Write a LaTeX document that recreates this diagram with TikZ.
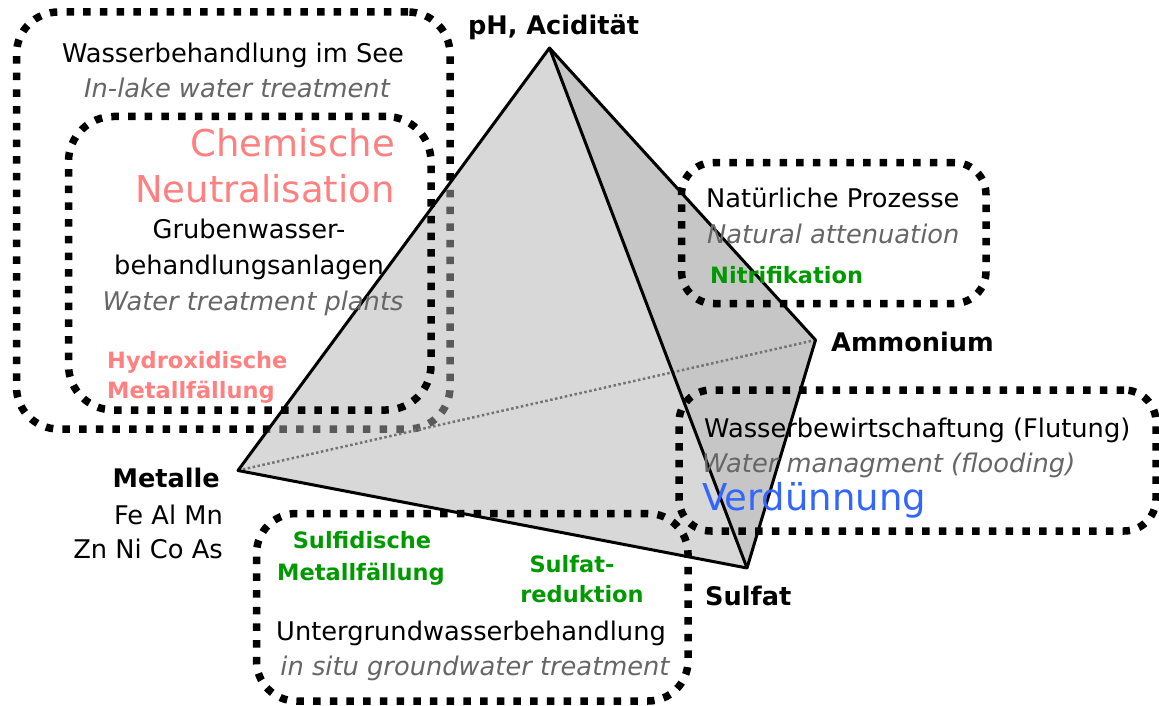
\documentclass[tikz,border=0pt]{standalone}
\usepackage{fontspec}
\setmainfont{DejaVu Sans}
\definecolor{pinkc}{RGB}{255,128,128}
\definecolor{greenc}{RGB}{0,153,0}
\definecolor{bluec}{RGB}{51,102,255}
\definecolor{grayt}{RGB}{102,102,102}
\definecolor{faceR}{RGB}{198,198,198}
\definecolor{faceF}{RGB}{179,179,179}
\definecolor{hidden}{RGB}{115,115,115}
\begin{document}
\begin{tikzpicture}[x=1pt,y=-1pt,
  dotbox/.style={draw=black, line width=7.5pt, dash pattern=on 7.5pt off 9.2pt, fill=none, inner sep=0pt, outer sep=0pt},
  edge/.style={draw=black, line width=3pt, line join=round},
  hiddenedge/.style={draw=hidden, line width=2.5pt, dash pattern=on 2.5pt off 2.5pt},
  txt/.style={font=\fontsize{25.7}{30}\selectfont, inner sep=0pt, anchor=base},
  ittxt/.style={font=\fontsize{25.7}{30}\selectfont\itshape, text=grayt, inner sep=0pt, anchor=base},
  lbl/.style={font=\fontsize{25.6}{30}\selectfont\bfseries, inner sep=0pt, anchor=base},
  smalllbl/.style={font=\fontsize{22.5}{27}\selectfont\bfseries, inner sep=0pt, anchor=base},
  bigtxt/.style={font=\fontsize{37}{42}\selectfont, inner sep=0pt, anchor=base}]
\useasboundingbox (0,0) rectangle (1159,706);
\fill[white] (0,0) rectangle (1159,706);

% outer box (beneath the tetrahedron)
\node[dotbox, rounded corners=42pt, minimum width=433.5pt, minimum height=417pt] (outerbox) at (233.25,220.5) {};

% tetrahedron
\coordinate (P) at (549.5,48);
\coordinate (M) at (238,470.5);
\coordinate (A) at (815.5,340);
\coordinate (S) at (747,568);
\fill[faceF, fill opacity=0.5] (P) -- (M) -- (S) -- cycle;
\fill[faceR] (P) -- (S) -- (A) -- cycle;
\draw[hiddenedge] (M) -- (A);
\draw[edge] (P) -- (M) -- (S) -- (A) -- cycle;
\draw[edge] (P) -- (S);

% other boxes
\node[dotbox, rounded corners=45pt, minimum width=362.5pt, minimum height=293.5pt] (innerbox) at (249.75,263.25) {};
\node[dotbox, rounded corners=32pt, minimum width=304.5pt, minimum height=141pt] (natbox) at (833.75,233) {};
\node[dotbox, rounded corners=32pt, minimum width=477pt, minimum height=141pt] (wasbox) at (917.5,460.5) {};
\node[dotbox, rounded corners=40pt, minimum width=431.5pt, minimum height=187.5pt] (lowbox) at (472.25,607.25) {};

% vertex labels
\node[lbl] (ph) at (553.5,35) {pH, Acidität};
\node[lbl, anchor=base west] (amm) at (831,351) {Ammonium};
\node[lbl, anchor=base west] (sulf) at (705,605) {Sulfat};
\node[lbl, anchor=base east] (met) at (220,487) {Metalle};
\node[txt, anchor=base east] (fe) at (223,524) {Fe Al Mn};
\node[txt, anchor=base east] (zn) at (223,558) {Zn Ni Co As};

% outer / inner box texts
\node[txt] (w1) at (233,63) {Wasserbehandlung im See};
\node[ittxt] (w2) at (237,98) {In-lake water treatment};
\node[bigtxt, text=pinkc, anchor=base east] (chem) at (395,157) {Chemische};
\node[bigtxt, text=pinkc, anchor=base east] (neut) at (395,202) {Neutralisation};
\node[txt] (g1) at (249,238) {Grubenwasser-};
\node[txt] (g2) at (249,274) {behandlungsanlagen};
\node[ittxt] (g3) at (253,310) {Water treatment plants};
\node[smalllbl, text=pinkc, anchor=base west] (h1) at (107,368) {Hydroxidische};
\node[smalllbl, text=pinkc, anchor=base west] (h2) at (107,398) {Metallfällung};

% natural box texts
\node[txt, anchor=base west] (n1) at (706,207) {Natürliche Prozesse};
\node[ittxt, anchor=base west] (n2) at (707,243) {Natural attenuation};
\node[smalllbl, text=greenc, anchor=base west] (n3) at (710,283) {Nitrifikation};

% water management box texts
\node[txt, anchor=base west] (wb1) at (704,437) {Wasserbewirtschaftung (Flutung)};
\node[ittxt, anchor=base west] (wb2) at (702,472) {Water managment (flooding)};
\node[bigtxt, text=bluec, anchor=base west] (verd) at (702,510) {Verdünnung};

% lower box texts
\node[smalllbl, text=greenc] (sd1) at (362,548) {Sulfidische};
\node[smalllbl, text=greenc] (sd2) at (361,580) {Metallfällung};
\node[smalllbl, text=greenc] (sr1) at (572,572) {Sulfat-};
\node[smalllbl, text=greenc] (sr2) at (582,602) {reduktion};
\node[txt] (u1) at (471,640) {Untergrundwasserbehandlung};
\node[ittxt] (u2) at (475,675) {in situ groundwater treatment};
\end{tikzpicture}
\end{document}
